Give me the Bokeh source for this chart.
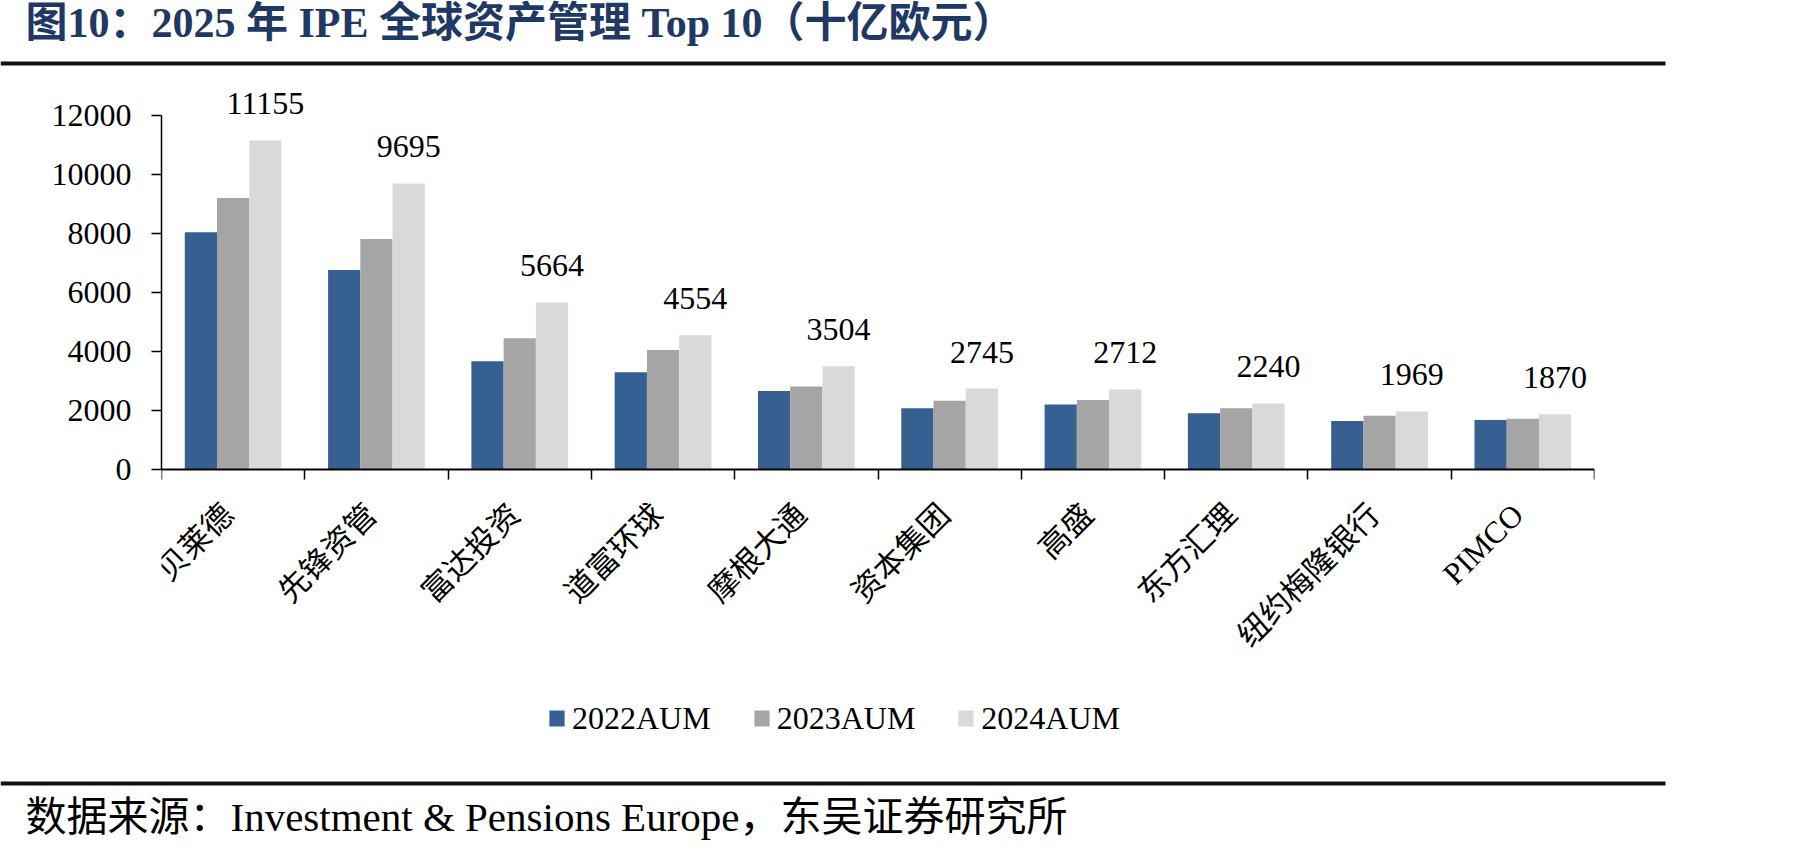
from bokeh.plotting import figure
from bokeh.layouts import column
from bokeh.models import (ColumnDataSource, Range1d, FixedTicker, LabelSet, Label,
                          Legend, LegendItem, BoxAnnotation)
from bokeh.transform import dodge
from bokeh.core.properties import value
from bokeh.embed import file_html
from bokeh.resources import INLINE

# ---------------- data ----------------
categories = ["贝莱德", "先锋资管", "富达投资", "道富环球", "摩根大通",
              "资本集团", "高盛", "东方汇理", "纽约梅隆银行", "PIMCO"]
aum_2022 = [8040, 6760, 3670, 3300, 2660, 2080, 2200, 1910, 1640, 1680]
aum_2023 = [9200, 7810, 4450, 4050, 2810, 2330, 2360, 2080, 1820, 1720]
aum_2024 = [11155, 9695, 5664, 4554, 3504, 2745, 2712, 2240, 1969, 1870]
series_names = ["2022AUM", "2023AUM", "2024AUM"]
series_colors = ["#376092", "#A5A5A5", "#D9D9D9"]
y_ticks = [0, 2000, 4000, 6000, 8000, 10000, 12000]
title_text = "图10：2025 年 IPE 全球资产管理 Top 10（十亿欧元）"
source_text = "数据来源：Investment & Pensions Europe，东吴证券研究所"

# ---------------- page geometry (pixels) ----------------
W = 1807
HEAD_H, MAIN_H, FOOT_H = 75, 700, 80          # 75 + 700 + 80 = 855
FL, FR = 161, 1594                            # plot frame left / right
Y0_PX, Y12K_PX = 469, 115                     # page y of value 0 and 12000
MAIN_TOP = HEAD_H                             # page y where main figure starts
MAIN_FRAME_BOTTOM = MAIN_TOP + MAIN_H - 30    # page y of main frame bottom
n = len(categories)
ppu = 12000 / (Y0_PX - Y12K_PX)               # data units per pixel
y_end = (Y0_PX - MAIN_TOP) * ppu
y_start = -(MAIN_FRAME_BOTTOM - Y0_PX) * ppu

SERIF_CJK = "Liberation Serif, Noto Sans CJK SC"


def bare_fig(height):
    f = figure(width=W, height=height, output_backend="svg", toolbar_location=None,
               title=None, x_axis_type=None, y_axis_type=None,
               x_range=Range1d(0, W), y_range=Range1d(0, height),
               min_border=0, min_border_left=0, min_border_right=0,
               min_border_top=0, min_border_bottom=0, frame_align=False)
    f.outline_line_color = None
    f.grid.visible = False
    f.background_fill_color = "white"
    f.border_fill_color = "white"
    return f


# ---------------- header ----------------
head = bare_fig(HEAD_H)
head.add_layout(Label(x=25, y=HEAD_H - 22, text=title_text, text_align="left",
                      text_baseline="middle", text_font=SERIF_CJK,
                      text_font_size="42px", text_font_style="bold",
                      text_color="#1F3864"))
head.add_layout(BoxAnnotation(left=0, right=1665, top=HEAD_H - 61, bottom=HEAD_H - 65,
                              fill_color="#111111", fill_alpha=1, line_color=None))

# ---------------- main chart ----------------
p = figure(width=W, height=MAIN_H, output_backend="svg", toolbar_location=None,
           title=None, x_range=Range1d(0, n), y_range=Range1d(y_start, y_end),
           min_border_left=FL, min_border_right=W - FR,
           min_border_top=0, min_border_bottom=MAIN_TOP + MAIN_H - MAIN_FRAME_BOTTOM,
           frame_align=False)
p.outline_line_color = None
p.xgrid.visible = False
p.ygrid.visible = False
p.background_fill_color = "white"
p.border_fill_color = "white"

centers = [i + 0.5 for i in range(n)]
src = ColumnDataSource(dict(
    cat=categories, xc=centers, zero=[0] * n,
    a22=aum_2022, a23=aum_2023, a24=aum_2024,
    lbl=[str(v) for v in aum_2024],
))

bw = 0.225
renderers = []
for off, col, color in zip([-bw, 0.0, bw], ["a22", "a23", "a24"], series_colors):
    r = p.vbar(x=dodge("xc", off, range=p.x_range), top=col, width=bw,
               source=src, fill_color=color, line_color=None)
    renderers.append(r)

# value labels above the 2024 bars
p.add_layout(LabelSet(x=dodge("xc", bw, range=p.x_range), y="a24", text="lbl",
                      source=src, y_offset=26, text_align="center",
                      text_baseline="alphabetic",
                      text_font=value("Liberation Serif"),
                      text_font_size="32px", text_color="black"))

# rotated category labels under the axis
p.add_layout(LabelSet(x="xc", y="zero", text="cat", source=src,
                      angle=45, angle_units="deg",
                      x_offset=-5, y_offset=-40,
                      text_align="right", text_baseline="middle",
                      text_font=value(SERIF_CJK),
                      text_font_size="31px", text_color="black"))

# y axis
ya = p.yaxis[0]
ya.ticker = FixedTicker(ticks=y_ticks)
ya.bounds = (0, 12000)
ya.major_tick_out = 10
ya.major_tick_in = 0
ya.minor_tick_out = 0
ya.minor_tick_in = 0
ya.major_label_standoff = 20
ya.major_label_text_font = "Liberation Serif"
ya.major_label_text_font_size = "32px"
ya.major_label_text_color = "black"
ya.axis_line_color = "black"
ya.axis_line_width = 1.5
ya.major_tick_line_color = "black"
ya.major_tick_line_width = 1.5

# x axis drawn at value 0; unlabeled ticks between the categories
xa = p.xaxis[0]
xa.fixed_location = 0
xa.ticker = FixedTicker(ticks=[], minor_ticks=list(range(n + 1)))
xa.major_tick_out = 0
xa.major_tick_in = 0
xa.minor_tick_out = 10
xa.minor_tick_in = 0
xa.axis_line_color = "black"
xa.axis_line_width = 2
xa.minor_tick_line_color = "black"
xa.minor_tick_line_width = 1.5

# legend
legend_center_px = 718
legend_h = 37
legend_vy = MAIN_FRAME_BOTTOM - (legend_center_px - legend_h / 2) - legend_h
legend = Legend(items=[LegendItem(label=s, renderers=[r])
                       for s, r in zip(series_names, renderers)],
                location=(547 - FL, legend_vy), orientation="horizontal",
                glyph_width=19, glyph_height=20, label_standoff=6,
                spacing=41, padding=0, margin=0,
                border_line_color=None, background_fill_alpha=0,
                label_text_font="Liberation Serif", label_text_font_size="32px",
                label_text_color="black", label_height=legend_h)
p.add_layout(legend, "center")

# ---------------- footer ----------------
foot = bare_fig(FOOT_H)
foot_top = HEAD_H + MAIN_H
foot.add_layout(BoxAnnotation(left=0, right=1665,
                              top=FOOT_H - (781 - foot_top),
                              bottom=FOOT_H - (785 - foot_top),
                              fill_color="#111111", fill_alpha=1, line_color=None))
foot.add_layout(Label(x=25, y=FOOT_H - (816 - foot_top), text=source_text,
                      text_align="left", text_baseline="middle",
                      text_font=SERIF_CJK, text_font_size="41px",
                      text_color="black"))

layout = column(head, p, foot, spacing=0)
open("out.html", "w").write(file_html(layout, INLINE))
